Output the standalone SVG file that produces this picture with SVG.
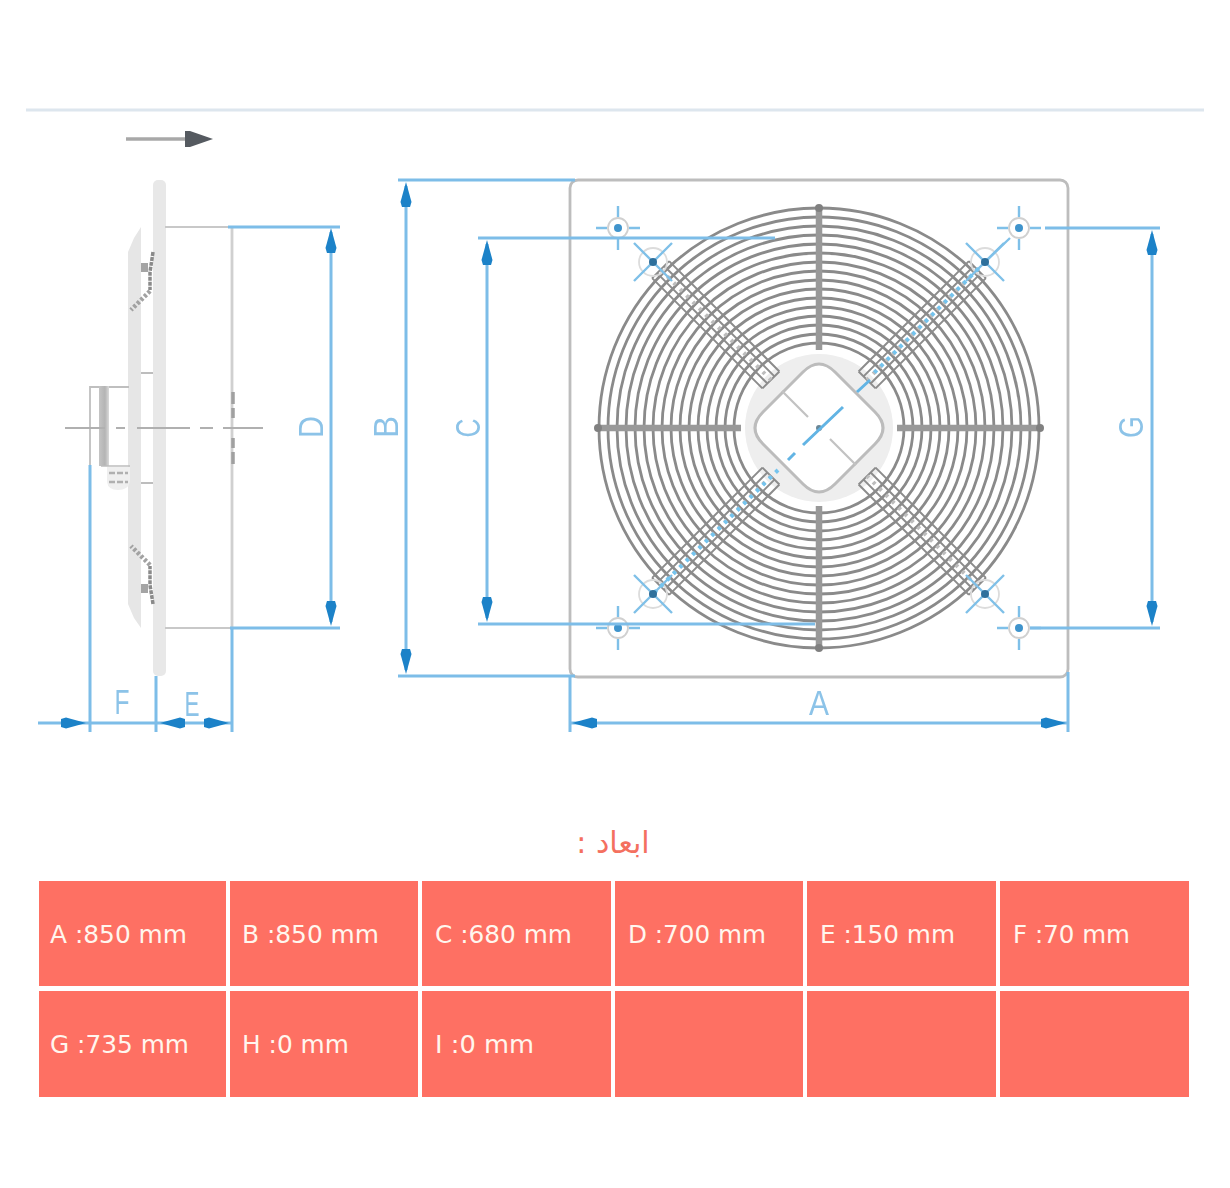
<svg xmlns="http://www.w3.org/2000/svg" width="1230" height="1188" viewBox="0 0 1230 1188">
<style>
.g{fill:none;stroke:#c8c8c8;stroke-width:2}
.r{fill:none;stroke:#8a8a8a;stroke-width:2.8}
.s{fill:none;stroke:#8c8c8c;stroke-width:2}
.b{fill:none;stroke:#7dbde8;stroke-width:3}
.bt{fill:none;stroke:#7fc0e8;stroke-width:2.4}
.l{font-family:"Liberation Sans",sans-serif;font-size:35px;fill:#8cc3e8;text-anchor:middle}
.c{fill:#fe7063}
.t{font-family:"DejaVu Sans",sans-serif;font-size:24px;fill:#fff6ee}
</style>
<defs>
<filter id="soft" x="-5%" y="-5%" width="110%" height="110%"><feGaussianBlur stdDeviation="0.7"/></filter>
<path id="ah" d="M0 0L-5.5 -20L-4 -25H4L5.500 -20Z" fill="#1b82c8"/>
<g id="hole"><circle r="10" fill="#fff" stroke="#d0d0d0" stroke-width="1.8"/><circle r="4" fill="#3f94cc"/><path class="bt" d="M-22 0H-11M11 0H22M0 -22V-11M0 11V22" stroke-width="3.200"/></g>
<g id="dhole"><circle r="14" fill="none" stroke="#dcdcdc" stroke-width="1.8"/></g>
<g id="band"><path class="s" d="M-12 0H12M-12 0V156M12 0V156M-5 0V156M5 0V156M-12 156H12"/></g>
<linearGradient id="hatch" x1="0" x2="1" y1="0" y2="0"><stop offset="0" stop-color="#c4c4c4"/><stop offset="0.6" stop-color="#b4b4b4"/><stop offset="1" stop-color="#dadada"/></linearGradient>
</defs>
<rect width="1230" height="1188" fill="#fff"/>
<g id="drawing" filter="url(#soft)">
<path d="M26 110H1204" fill="none" stroke="#dde6ee" stroke-width="3"/>
<g id="flow-arrow"><path d="M126 139H188" fill="none" stroke="#a8a8a8" stroke-width="3.500"/><path d="M185 131L190 131L213 139L190 147L185 147Z" fill="#555a60"/></g>

<g id="side-view">
<rect x="153" y="180" width="13" height="496" rx="5" fill="#e8e8e8"/>
<rect x="128" y="252" width="13" height="352" fill="#e6e6e6"/>
<path d="M128 252L134 238L141 227V252ZM128 604L134 618L141 628V604Z" fill="#e6e6e6"/>
<path d="M165 227H232M165 628H232" fill="none" stroke="#c8c8c8" stroke-width="2"/>
<path d="M232 227V628" fill="none" stroke="#d0d0d0" stroke-width="2.800"/>
<path d="M153 252L150 272V290" fill="none" stroke="#8a8a8a" stroke-width="3.500" stroke-dasharray="4 1"/>
<path d="M153 604L150 585V566" fill="none" stroke="#8a8a8a" stroke-width="3.500" stroke-dasharray="4 1"/>
<path d="M150 291L131 310M150 565L131 546" fill="none" stroke="#a2a2a2" stroke-width="4.500" stroke-dasharray="3 2"/>
<rect x="141" y="263" width="7" height="9" fill="#a4a4a4"/>
<rect x="141" y="584" width="7" height="9" fill="#a4a4a4"/>
<path d="M141 373H153M141 483H153" stroke="#bdbdbd" stroke-width="1.800" fill="none"/>
<path d="M129 387H90V465" fill="none" stroke="#bfbfbf" stroke-width="1.800"/>
<rect x="99" y="386" width="10" height="80" fill="url(#hatch)"/>
<path d="M101 466H130" stroke="#bdbdbd" stroke-width="1.500" fill="none"/>
<path d="M107 467H130V482Q128 490 118 490Q108 490 107 482Z" fill="#efefef"/>
<path d="M109 473H128M109 482H128" stroke="#b0b0b0" stroke-width="2.500" stroke-dasharray="6 2" fill="none"/>
<path d="M65 428H105M116 428H125M137 428H190M200 428H213M223 428H263" fill="none" stroke="#b0b0b0" stroke-width="2"/>
<path d="M233 392V404M233 408V418M233 438V448M233 452V464" fill="none" stroke="#a0a0a0" stroke-width="3.500"/>
</g>

<g id="front-view">
<rect x="570" y="180" width="498" height="497" rx="8" fill="#fff" stroke="#bdbdbd" stroke-width="2.800"/>
<g id="grille">
<circle class="r" cx="819" cy="428" r="220"/><circle class="r" cx="819" cy="428" r="211"/><circle class="r" cx="819" cy="428" r="202"/><circle class="r" cx="819" cy="428" r="193"/><circle class="r" cx="819" cy="428" r="184"/><circle class="r" cx="819" cy="428" r="175"/><circle class="r" cx="819" cy="428" r="166"/><circle class="r" cx="819" cy="428" r="157"/><circle class="r" cx="819" cy="428" r="148"/><circle class="r" cx="819" cy="428" r="139"/><circle class="r" cx="819" cy="428" r="130"/><circle class="r" cx="819" cy="428" r="121"/><circle class="r" cx="819" cy="428" r="112"/><circle class="r" cx="819" cy="428" r="103"/><circle class="r" cx="819" cy="428" r="94"/><circle class="r" cx="819" cy="428" r="85"/>
</g>
<circle cx="819" cy="428" r="79" fill="#fff"/>
<circle cx="819" cy="428" r="74" fill="#eeeeee"/>
<g fill="none" stroke="#999" stroke-width="6.500"><path d="M819 208V350M819 506V648M598 428H741M897 428H1040"/></g>
<circle cx="819" cy="208" r="4" fill="#808080"/><circle cx="819" cy="648" r="4" fill="#808080"/><circle cx="598" cy="428" r="4" fill="#808080"/><circle cx="1040" cy="428" r="4" fill="#808080"/>
<use href="#band" transform="translate(819 428) rotate(-45) translate(0 -224)"/>
<use href="#band" transform="translate(819 428) rotate(45) translate(0 -224)"/>
<use href="#band" transform="translate(819 428) rotate(135) translate(0 -224)"/>
<use href="#band" transform="translate(819 428) rotate(225) translate(0 -224)"/>
<path d="M661 270L771 380M977 270L867 380M661 586L771 476M977 586L867 476" fill="none" stroke="#bdbdbd" stroke-width="4" stroke-dasharray="3 6"/>
<path d="M803 372Q819 356 835 372L875 412Q891 428 875 444L835 484Q819 500 803 484L763 444Q747 428 763 412Z" fill="#fff" stroke="#bcbcbc" stroke-width="3"/>
<path d="M782 391L808 417M830 439L856 465" fill="none" stroke="#c2c2c2" stroke-width="2.200"/>
<circle cx="819" cy="428" r="3" fill="#6b8797"/>
<use href="#dhole" x="653" y="262"/><use href="#dhole" x="985" y="262"/><use href="#dhole" x="653" y="594"/><use href="#dhole" x="985" y="594"/>
<use href="#hole" x="618" y="228"/><use href="#hole" x="1019" y="228"/><use href="#hole" x="618" y="628"/><use href="#hole" x="1019" y="628"/>
</g>
</g>

<g id="connectors" filter="url(#soft)">
<path class="b" d="M228 227H340M230 628H340M331 232V622"/>
<path class="b" d="M90 465V732M156 676V732M232 628V732M38 723H232"/>
<path class="b" d="M398 180H575M398 676H575M406 186V670"/>
<path class="b" d="M478 238H775M478 624H815M487 244V618"/>
<path class="b" d="M1045 228H1160M1030 628H1160M1152 234V622"/>
<path class="b" d="M570 676V732M1068 672V732M570 723H1068"/>
<g class="bt">
<path d="M634 243L672 281M672 243L634 281M1004 243L966 281M966 243L1004 281M634 575L672 613M672 575L634 613M966 575L1004 613M1004 575L966 613"/>
<path d="M1010 238L985 262"/>
<path d="M985 262L871 376M778 470L653 594" stroke="#74c4ee" stroke-width="4" stroke-dasharray="3.500 5.500"/>
<path d="M870 380L857 392M843 407L803 445M795 453L788 460" stroke="#62b4e4" stroke-width="3"/>
</g>
<circle cx="653" cy="262" r="4" fill="#2f6f9c"/><circle cx="985" cy="262" r="4" fill="#2f6f9c"/><circle cx="653" cy="594" r="4" fill="#2f6f9c"/><circle cx="985" cy="594" r="4" fill="#2f6f9c"/>
<g>
<use href="#ah" transform="translate(331 228) rotate(180)"/><use href="#ah" transform="translate(331 626)"/>
<use href="#ah" transform="translate(406 182) rotate(180)"/><use href="#ah" transform="translate(406 674)"/>
<use href="#ah" transform="translate(487 240) rotate(180)"/><use href="#ah" transform="translate(487 622)"/>
<use href="#ah" transform="translate(1152 230) rotate(180)"/><use href="#ah" transform="translate(1152 626)"/>
<use href="#ah" transform="translate(572 723) rotate(90)"/><use href="#ah" transform="translate(1066 723) rotate(-90)"/>
<use href="#ah" transform="translate(86 723) rotate(-90)"/><use href="#ah" transform="translate(160 723) rotate(90)"/><use href="#ah" transform="translate(229 723) rotate(-90)"/>
</g>
<text class="l" x="819" y="715" textLength="20" lengthAdjust="spacingAndGlyphs">A</text>
<text class="l" transform="translate(398 427) rotate(-90)" textLength="22" lengthAdjust="spacingAndGlyphs">B</text>
<text class="l" transform="translate(480 428) rotate(-90)" textLength="19" lengthAdjust="spacingAndGlyphs">C</text>
<text class="l" transform="translate(323 427) rotate(-90)" textLength="22" lengthAdjust="spacingAndGlyphs">D</text>
<text class="l" x="192" y="716" textLength="15" lengthAdjust="spacingAndGlyphs">E</text>
<text class="l" x="122" y="714" textLength="15" lengthAdjust="spacingAndGlyphs">F</text>
<text class="l" transform="translate(1143 427) rotate(-90)" textLength="22" lengthAdjust="spacingAndGlyphs">G</text>
</g>

<text id="title" x="613" y="853" text-anchor="middle" font-family="'DejaVu Sans',sans-serif" font-size="30" fill="#f4705f" direction="rtl">ابعاد :</text>
<g id="table">
<rect class="c" x="39" y="881" width="187" height="105"/><rect class="c" x="230" y="881" width="188" height="105"/><rect class="c" x="422" y="881" width="189" height="105"/><rect class="c" x="615" y="881" width="188" height="105"/><rect class="c" x="807" y="881" width="189" height="105"/><rect class="c" x="1000" y="881" width="189" height="105"/>
<rect class="c" x="39" y="991" width="187" height="106"/><rect class="c" x="230" y="991" width="188" height="106"/><rect class="c" x="422" y="991" width="189" height="106"/><rect class="c" x="615" y="991" width="188" height="106"/><rect class="c" x="807" y="991" width="189" height="106"/><rect class="c" x="1000" y="991" width="189" height="106"/>
<text class="t" x="50" y="943" textLength="137" lengthAdjust="spacingAndGlyphs">A :850 mm</text>
<text class="t" x="242" y="943" textLength="137" lengthAdjust="spacingAndGlyphs">B :850 mm</text>
<text class="t" x="435" y="943" textLength="137" lengthAdjust="spacingAndGlyphs">C :680 mm</text>
<text class="t" x="628" y="943" textLength="138" lengthAdjust="spacingAndGlyphs">D :700 mm</text>
<text class="t" x="820" y="943" textLength="135" lengthAdjust="spacingAndGlyphs">E :150 mm</text>
<text class="t" x="1013" y="943" textLength="117" lengthAdjust="spacingAndGlyphs">F :70 mm</text>
<text class="t" x="50" y="1053" textLength="139" lengthAdjust="spacingAndGlyphs">G :735 mm</text>
<text class="t" x="242" y="1053" textLength="107" lengthAdjust="spacingAndGlyphs">H :0 mm</text>
<text class="t" x="435" y="1053" textLength="99" lengthAdjust="spacingAndGlyphs">I :0 mm</text>
</g>
</svg>
